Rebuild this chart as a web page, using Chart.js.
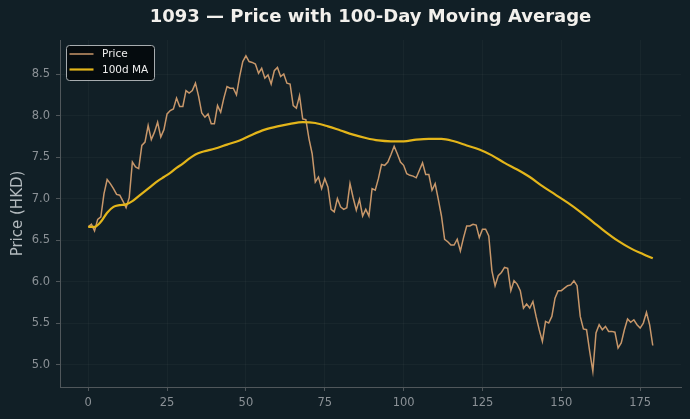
<!DOCTYPE html>
<html>
<head>
<meta charset="utf-8">
<script src="https://cdn.jsdelivr.net/npm/chart.js@4.4.1/dist/chart.umd.min.js"></script>
<style>
  html, body { margin: 0; padding: 0; background: #111f26; }
  #wrap { width: 690px; height: 419px; }
</style>
</head>
<body>
<div id="wrap"><canvas id="myChart" width="690" height="419"></canvas></div>
<script>
// closing prices, one per trading day (day = index)
const priceValues = [
  6.66, 6.69, 6.61, 6.75, 6.78, 7.06, 7.23, 7.18, 7.12, 7.05,
  7.04, 6.97, 6.89, 7.01, 7.44, 7.38, 7.36, 7.64, 7.68, 7.88,
  7.71, 7.80, 7.92, 7.74, 7.83, 8.02, 8.06, 8.08, 8.21, 8.11,
  8.11, 8.30, 8.27, 8.30, 8.39, 8.23, 8.03, 7.98, 8.02, 7.90,
  7.90, 8.12, 8.04, 8.21, 8.35, 8.33, 8.33, 8.25, 8.47, 8.65,
  8.72, 8.65, 8.64, 8.62, 8.51, 8.57, 8.45, 8.49, 8.38, 8.54,
  8.58, 8.47, 8.50, 8.39, 8.38, 8.12, 8.09, 8.24, 7.96, 7.95,
  7.72, 7.54, 7.20, 7.26, 7.12, 7.24, 7.14, 6.87, 6.84, 7.00,
  6.90, 6.87, 6.89, 7.18, 7.01, 6.86, 6.99, 6.79, 6.87, 6.79,
  7.12, 7.10, 7.24, 7.41, 7.40, 7.44, 7.53, 7.63, 7.54, 7.44,
  7.40, 7.30, 7.28, 7.27, 7.25, 7.34, 7.43, 7.29, 7.29, 7.10,
  7.18, 6.99, 6.79, 6.51, 6.48, 6.44, 6.44, 6.51, 6.37, 6.53,
  6.67, 6.67, 6.69, 6.68, 6.53, 6.63, 6.63, 6.55, 6.13, 5.95,
  6.07, 6.11, 6.17, 6.16, 5.89, 6.01, 5.97, 5.89, 5.68, 5.73,
  5.68, 5.76, 5.58, 5.42, 5.28, 5.52, 5.50, 5.58, 5.80, 5.89,
  5.89, 5.92, 5.95, 5.96, 6.01, 5.95, 5.58, 5.43, 5.42, 5.16,
  4.92, 5.38, 5.48, 5.42, 5.46, 5.40, 5.40, 5.39, 5.20, 5.26,
  5.42, 5.55, 5.51, 5.54, 5.48, 5.44, 5.50, 5.63, 5.48, 5.23
];

// 100-day moving average at these days
const maDays = [0, 2, 4, 6, 8, 10, 12, 14, 16, 18, 20, 22, 24, 26, 28, 30, 32, 34, 36, 38,
  40, 44, 48, 52, 56, 60, 64, 68, 72, 76, 80, 84, 88, 92, 96, 100, 104, 108, 112, 116,
  120, 124, 128, 132, 136, 140, 144, 148, 152, 156, 160, 164, 168, 172, 176, 179];
const maValues = [6.66, 6.66, 6.72, 6.83, 6.90, 6.92, 6.93, 6.97, 7.03, 7.09, 7.15, 7.21, 7.26, 7.31, 7.37, 7.42, 7.48, 7.53, 7.56, 7.58,
  7.60, 7.65, 7.70, 7.77, 7.83, 7.87, 7.90, 7.92, 7.91, 7.87, 7.82, 7.77, 7.73, 7.70, 7.69, 7.69, 7.71, 7.72, 7.72, 7.69,
  7.64, 7.59, 7.52, 7.43, 7.35, 7.26, 7.15, 7.05, 6.95, 6.84, 6.72, 6.60, 6.49, 6.40, 6.33, 6.28];

const xTicks = [0, 25, 50, 75, 100, 125, 150, 175];
const yTicks = [5.0, 5.5, 6.0, 6.5, 7.0, 7.5, 8.0, 8.5];

const priceColor = '#c8976a';
const maColor = '#e3b51a';
const tickColor = '#8b9196';
const spineColor = '#50575b';
const gridColor = 'rgba(255,255,255,0.03)';

// legend box inside the plot, top left
const boxLegend = {
  id: 'boxLegend',
  afterDraw(chart) {
    const ctx = chart.ctx;
    const a = chart.chartArea;
    const x = a.left + 6.5, y = a.top + 5.5, w = 88, h = 35;
    ctx.save();
    ctx.beginPath();
    ctx.roundRect(x, y, w, h, 3);
    ctx.fillStyle = 'rgba(4,8,10,0.85)';
    ctx.fill();
    ctx.strokeStyle = '#a7acaf';
    ctx.lineWidth = 1;
    ctx.stroke();
    const items = [['Price', priceColor, 1.5], ['100d MA', maColor, 2.2]];
    items.forEach((it, k) => {
      const ly = y + 8.5 + k * 15.5;
      ctx.beginPath();
      ctx.moveTo(x + 3, ly);
      ctx.lineTo(x + 27, ly);
      ctx.strokeStyle = it[1];
      ctx.lineWidth = it[2];
      ctx.stroke();
      ctx.fillStyle = '#eeeeee';
      ctx.font = '10.5px "DejaVu Sans"';
      ctx.textBaseline = 'middle';
      ctx.fillText(it[0], x + 35.5, ly + 0.5);
    });
    ctx.restore();
  }
};

const bgPlugin = {
  id: 'bg',
  beforeDraw(chart) {
    const ctx = chart.ctx;
    ctx.save();
    ctx.fillStyle = '#111f26';
    ctx.fillRect(0, 0, chart.width, chart.height);
    ctx.restore();
  }
};

function draw(ctx) {
  return new Chart(ctx, {
    type: 'line',
    data: {
      datasets: [
        {
          label: 'Price',
          data: priceValues.map((v, i) => ({ x: i, y: v })),
          borderColor: priceColor,
          borderWidth: 1.5,
          pointRadius: 0,
          tension: 0,
          order: 1
        },
        {
          label: '100d MA',
          data: maDays.map((d, i) => ({ x: d, y: maValues[i] })),
          borderColor: maColor,
          borderWidth: 2.2,
          pointRadius: 0,
          cubicInterpolationMode: 'monotone',
          order: 0
        }
      ]
    },
    options: {
      responsive: false,
      animation: false,
      devicePixelRatio: 1,
      layout: { padding: { left: 0, right: 9, top: 0, bottom: 0 } },
      plugins: {
        legend: { display: false },
        tooltip: { enabled: false },
        title: {
          display: true,
          fullSize: false,
          text: '1093 \u2014 Price with 100-Day Moving Average',
          color: '#f2f0ec',
          font: { family: 'DejaVu Sans', size: 18, weight: 'bold', lineHeight: 1.2 },
          padding: { top: 7, bottom: 11.4 }
        }
      },
      scales: {
        x: {
          type: 'linear',
          min: -8.95,
          max: 187.95,
          afterBuildTicks: s => { s.ticks = xTicks.map(v => ({ value: v })); },
          afterFit: s => { s.height = 32; },
          grid: { color: gridColor, tickColor: spineColor, tickLength: 4 },
          border: { color: spineColor, width: 1 },
          ticks: { color: tickColor, padding: 5, maxRotation: 0, font: { family: 'DejaVu Sans', size: 11.5 } }
        },
        y: {
          min: 4.73,
          max: 8.91,
          afterBuildTicks: s => { s.ticks = yTicks.map(v => ({ value: v })); },
          afterFit: s => { s.width = 60; },
          grid: { color: gridColor, tickColor: spineColor, tickLength: 4 },
          border: { color: spineColor, width: 1 },
          ticks: {
            color: tickColor, padding: 6,
            font: { family: 'DejaVu Sans', size: 11.5 },
            callback: v => v.toFixed(1)
          },
          title: {
            display: true,
            text: 'Price (HKD)',
            color: '#b3babe',
            font: { family: 'DejaVu Sans', size: 15 },
            padding: { top: 9, bottom: 0 }
          }
        }
      }
    },
    plugins: [bgPlugin, boxLegend]
  });
}

window.addEventListener('load', setup);

function setup() {
  const ctx = document.getElementById('myChart').getContext('2d');
  draw(ctx);
}
</script>
</body>
</html>
